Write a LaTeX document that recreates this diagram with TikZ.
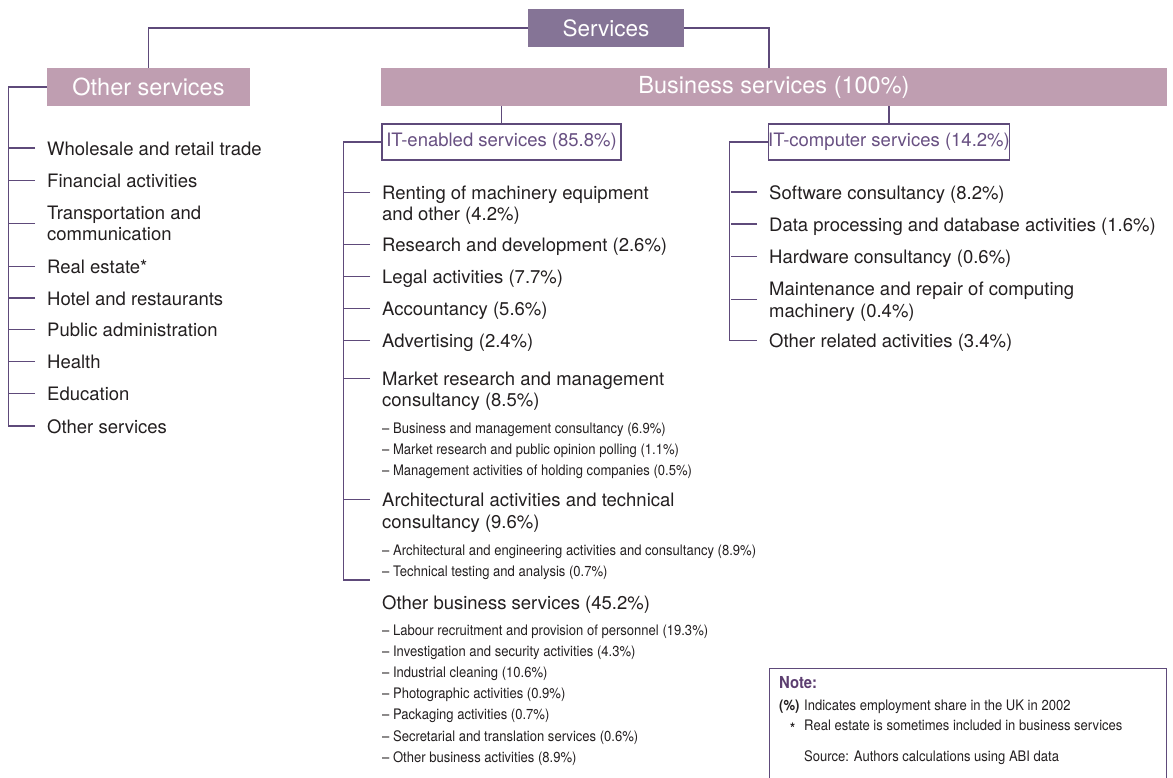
\documentclass[tikz,border=0pt]{standalone}
\usepackage{fontspec}
\setmainfont{TeX Gyre Heros}
\newfontfamily\condfont[FakeStretch=0.9]{TeX Gyre Heros}
\usetikzlibrary{calc}
\definecolor{linec}{RGB}{94,74,122}
\definecolor{darkbox}{RGB}{133,116,150}
\definecolor{lightbox}{RGB}{191,158,177}
\definecolor{txt}{RGB}{35,31,32}
\definecolor{ittxt}{RGB}{104,80,130}
\definecolor{notec}{RGB}{92,62,112}
% stacked lines whose baseline is the first line's baseline
\newcommand\rowsof[1]{\vtop{#1}}

\begin{document}
\begin{tikzpicture}[x=1pt,y=-1pt,
  conn/.style={draw=linec,line width=1.2pt},
  topbox/.style={fill=darkbox,text=white,inner sep=0pt,minimum width=156pt,minimum height=38pt,font=\fontsize{22.5}{26}\selectfont},
  headbox/.style={fill=lightbox,text=white,inner sep=0pt,minimum height=38pt,font=\fontsize{23.5}{26}\selectfont},
  itbox/.style={draw=linec,line width=1.1pt,fill=white,text=ittxt,inner sep=0pt,minimum height=36pt,font=\fontsize{18.5}{21.5}\selectfont},
  item/.style={anchor=base west,inner sep=0pt,text=txt,font=\fontsize{18.5}{21.5}\selectfont},
  sub/.style={anchor=base west,inner sep=0pt,text=txt,font=\condfont\fontsize{14.5}{21.1}\selectfont},
  notehead/.style={anchor=base west,inner sep=0pt,text=notec,font=\condfont\bfseries\fontsize{16.5}{20}\selectfont},
  notetext/.style={anchor=base west,inner sep=0pt,text=txt,font=\condfont\fontsize{14.5}{20}\selectfont},
  notemark/.style={notetext,font=\condfont\bfseries\fontsize{14.5}{20}\selectfont},
  brtick/.style={conn},
]
\useasboundingbox (0,0) rectangle (1173,777);

% --- top level boxes ---
\node[topbox] (serv) at (606,28) {Services};
\node[headbox,minimum width=203pt] (oth) at (148.5,87) {Other services};
\node[headbox,minimum width=786pt] (bus) at (774,87) {Business services (100\%)};
\node[itbox,minimum width=239pt] (ite) at (501.5,142) {IT-enabled services (85.8\%)};
\node[itbox,minimum width=240pt] (itc) at (889,142) {IT-computer services (14.2\%)};

\draw[conn] (serv.west) -| (oth.north);
\draw[conn] (serv.east) -| ([xshift=-5pt]bus.north);
\draw[conn] (bus.south -| ite.north) -- (ite.north);
\draw[conn] (bus.south -| itc.north) -- (itc.north);

% --- other services ---
\node[item] (l1) at (47,155) {Wholesale and retail trade};
\node[item] (l2) at (47,187.3) {Financial activities};
\node[item] (l3) at (47,219.3) {\rowsof{\hbox{Transportation and}\hbox{communication}}};
\node[item] (l4) at (47,273.3) {Real estate*};
\node[item] (l5) at (47,305) {Hotel and restaurants};
\node[item] (l6) at (47,336.7) {Public administration};
\node[item] (l7) at (47,368.7) {Health};
\node[item] (l8) at (47,400.7) {Education};
\node[item] (l9) at (47,433) {Other services};

\draw[conn] (oth.west) -- ++(-38,0) |- ([xshift=-12pt,yshift=7pt]l9.base west);
\foreach \n in {l1,l2,l4,l5,l6,l7,l8}
  \draw[brtick] ([xshift=-12pt,yshift=7pt]\n.base west) -- ++(-26,0);
\draw[brtick] ([xshift=-12pt,yshift=-4pt]l3.base west) -- ++(-26,0);

% --- IT-enabled services ---
\node[item] (m1) at (382,199.3) {\rowsof{\hbox{Renting of machinery equipment}\hbox{and other (4.2\%)}}};
\node[item] (m2) at (382,251.7) {Research and development (2.6\%)};
\node[item] (m3) at (382,283.3) {Legal activities (7.7\%)};
\node[item] (m4) at (382,315.5) {Accountancy (5.6\%)};
\node[item] (m5) at (382,347.5) {Advertising (2.4\%)};
\node[item] (m6) at (382,385.3) {\rowsof{\hbox{Market research and management}\hbox{consultancy (8.5\%)}}};
\node[sub] (ms1) at (382,433.5) {\rowsof{%
  \hbox{– Business and management consultancy (6.9\%)}%
  \hbox{– Market research and public opinion polling (1.1\%)}%
  \hbox{– Management activities of holding companies (0.5\%)}}};
\node[item] (m7) at (382,506.6) {\rowsof{\hbox{Architectural activities and technical}\hbox{consultancy (9.6\%)}}};
\node[sub] (ms2) at (382,555) {\rowsof{%
  \hbox{– Architectural and engineering activities and consultancy (8.9\%)}%
  \hbox{– Technical testing and analysis (0.7\%)}}};
\node[item] (m8) at (382,609.5) {Other business services (45.2\%)};
\node[sub] (ms3) at (382,635.5) {\rowsof{%
  \hbox{– Labour recruitment and provision of personnel (19.3\%)}%
  \hbox{– Investigation and security activities (4.3\%)}%
  \hbox{– Industrial cleaning (10.6\%)}%
  \hbox{– Photographic activities (0.9\%)}%
  \hbox{– Packaging activities (0.7\%)}%
  \hbox{– Secretarial and translation services (0.6\%)}%
  \hbox{– Other business activities (8.9\%)}}};

\coordinate (mend) at (370,580);
\draw[conn] (ite.west) -- ++(-38,0) |- (mend);
\foreach \n in {m1,m2,m3,m4,m5,m6,m7}
  \draw[brtick] ([xshift=-12pt,yshift=7pt]\n.base west) -- ++(-26,0);

% --- IT-computer services ---
\node[item] (r1) at (769,199) {Software consultancy (8.2\%)};
\node[item] (r2) at (769,231) {Data processing and database activities (1.6\%)};
\node[item] (r3) at (769,263.5) {Hardware consultancy (0.6\%)};
\node[item] (r4) at (769,295.7) {\rowsof{\hbox{Maintenance and repair of computing}\hbox{machinery (0.4\%)}}};
\node[item] (r5) at (769,347.7) {Other related activities (3.4\%)};

\draw[conn] (itc.west) -- ++(-38,0) |- ([xshift=-12pt,yshift=7pt]r5.base west);
\foreach \n in {r1,r2,r3}
  \draw[brtick] ([xshift=-12pt,yshift=7pt]\n.base west) -- ++(-26,0);
\draw[brtick] ([xshift=-12pt,yshift=-3.5pt]r4.base west) -- ++(-26,0);

% --- note panel ---
\draw[draw=linec,line width=1pt] (769,785) |- (1166,668) -- (1166,785);
\node[notehead] (n0) at (779,688.3) {Note:};
\node[notemark] (n1) at (779,710.7) {(\%)};
\node[notetext] (n2) at (804,710.7) {Indicates employment share in the UK in 2002};
\node[notemark] (n3) at (790,733) {*};
\node[notetext] (n4) at (804,730.7) {Real estate is sometimes included in business services};
\node[notetext] (n5) at (804,761.7) {Source: Authors calculations using ABI data};
\end{tikzpicture}
\end{document}
